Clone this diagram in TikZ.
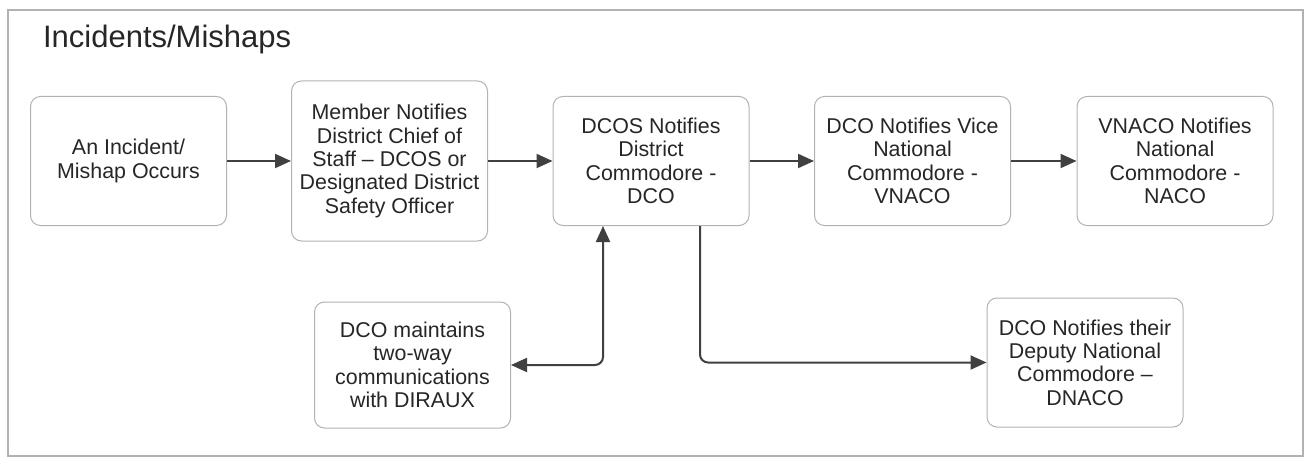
\documentclass[tikz,border=0pt]{standalone}
\usepackage{fontspec}
\setmainfont{Liberation Sans}
\usetikzlibrary{arrows.meta, calc, positioning}

\begin{document}
\begin{tikzpicture}[
  x=0.5pt, y=-0.5pt,
  font=\fontsize{10.7}{11.7}\selectfont,
  ahead/.tip={Triangle[length=8pt, width=7pt]},
  box/.style={draw=gray!60, line width=0.5pt, rounded corners=5pt, align=center, text=black!85, minimum width=98pt, minimum height=64.5pt, inner sep=1pt},
  link/.style={draw=black!75, line width=1pt, arrows={-ahead}}
]

% page and outer frame
\useasboundingbox (0,0) rectangle (1310,460);
\draw[gray!60, line width=0.6pt] (8,10) rectangle (1303,456);

% title
\node[anchor=base west, font=\fontsize{15.5}{18}\selectfont, text=black!85] (title) at (36,48) {Incidents/Mishaps};

% top row, left to right
\node[box] (incident) at (128.5,161) {An Incident/\\Mishap Occurs};
\node[box, minimum height=80pt] (member) at (389.5,161) {Member Notifies\\District Chief of\\Staff -- DCOS or\\Designated District\\Safety Officer};
\node[box] (dcos) at (651,161) {DCOS Notifies\\District\\Commodore -\\DCO};
\node[box] (vnaco) at (912.5,161) {DCO Notifies Vice\\National\\Commodore -\\VNACO};
\node[box] (naco) at (1175,161) {VNACO Notifies\\National\\Commodore -\\NACO};

% bottom row
\node[box, minimum height=63pt] (diraux) at (412.5,365) {DCO maintains\\two-way\\communications\\with DIRAUX};
\node[box] (dnaco) at (1085,362.5) {DCO Notifies their\\Deputy National\\Commodore --\\DNACO};

% chain of notifications
\draw[link] (incident) -- (member);
\draw[link] (member) -- (dcos);
\draw[link] (dcos) -- (vnaco);
\draw[link] (vnaco) -- (naco);

% branches below the DCO
\draw[link, arrows={ahead-ahead}, rounded corners=4pt] (diraux.east) -| ([xshift=-24pt]dcos.south);
\draw[link, rounded corners=4pt] ([xshift=24.5pt]dcos.south) |- (dnaco.west);

\end{tikzpicture}
\end{document}
